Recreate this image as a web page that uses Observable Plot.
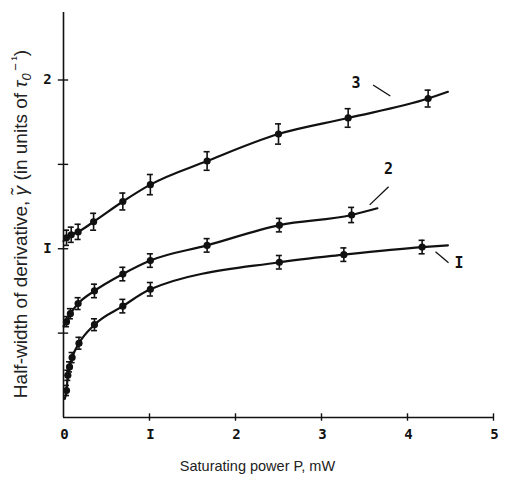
<!DOCTYPE html>
<html>
<head>
<meta charset="utf-8">
<script src="https://cdn.jsdelivr.net/npm/d3@7"></script>
<script src="https://cdn.jsdelivr.net/npm/@observablehq/plot@0.6"></script>
<style>
  html, body { margin: 0; padding: 0; background: #fff; }
  #chart svg { display: block; }
</style>
</head>
<body>
<div id="chart"></div>
<script>
// ---- data ----
// Curve 3
const p3 = [0.035, 0.09, 0.17, 0.35, 0.69, 1.01, 1.67, 2.50, 3.31, 4.24];
const g3 = [1.065, 1.083, 1.10, 1.16, 1.28, 1.38, 1.52, 1.68, 1.775, 1.89];
const e3 = [0.045, 0.045, 0.045, 0.05, 0.05, 0.06, 0.055, 0.06, 0.055, 0.05];
const line3Start = [0.0, 1.045];
const line3End = [4.47, 1.93];
// Curve 2
const p2 = [0.035, 0.08, 0.17, 0.36, 0.69, 1.01, 1.67, 2.51, 3.35];
const g2 = [0.568, 0.615, 0.675, 0.75, 0.85, 0.93, 1.02, 1.14, 1.20];
const e2 = [0.03, 0.03, 0.035, 0.04, 0.04, 0.04, 0.04, 0.04, 0.045];
const line2Start = [0.0, 0.54];
const line2End = [3.65, 1.24];
// Curve 1
const p1 = [0.035, 0.05, 0.07, 0.10, 0.18, 0.36, 0.69, 1.01, 2.51, 3.26, 4.17];
const g1 = [0.16, 0.25, 0.30, 0.355, 0.44, 0.55, 0.66, 0.76, 0.92, 0.965, 1.01];
const e1 = [0.03, 0.03, 0.03, 0.03, 0.035, 0.035, 0.04, 0.04, 0.04, 0.04, 0.04];
const line1Start = [0.015, 0.11];
const line1End = [4.47, 1.02];

// curve labels and leader lines (data units)
const curveLabels = ["3", "2", "I"];
const labelX = [3.40, 3.78, 4.60];
const labelY = [1.98, 1.47, 0.917];
const leaderX1 = [3.60, 3.78, 4.326];
const leaderY1 = [1.97, 1.367, 0.982];
const leaderX2 = [3.80, 3.56, 4.477];
const leaderY2 = [1.905, 1.26, 0.917];

// axes
const xTicks = [0, 1, 2, 3, 4, 5];
const xTickLabels = ["0", "I", "2", "3", "4", "5"];
const yTicks = [0.5, 1, 1.5, 2];
const yLabelTicks = [1, 2];
const yTickLabels = ["I", "2"];
const xTitle = "Saturating power P, mW";
// y title pieces: [text, style] (style: "n" normal, "i" italic, "sub", "sup")
const yTitleParts = [
  ["Half-width of derivative, ", "n"],
  ["\u03B3\u0303", "i"],
  [" (in units of ", "n"],
  ["\u03C4", "i"],
  ["0", "sub"],
  ["\u2009\u2212\u2009\u00B9", "sup"],
  [")", "n"]
];
const yTitle = yTitleParts.map(p => p[0]).join("");

// ---- build tables ----
function pts(xs, ys, es) { return xs.map((x, i) => ({x, y: ys[i], e: es[i]})); }
const pts3 = pts(p3, g3, e3), pts2 = pts(p2, g2, e2), pts1 = pts(p1, g1, e1);
const allPts = [...pts3, ...pts2, ...pts1];
function lineOf(start, xs, ys, end) {
  return [{x: start[0], y: start[1]}, ...xs.map((x, i) => ({x, y: ys[i]})), {x: end[0], y: end[1]}];
}
const lines = [
  lineOf(line3Start, p3, g3, line3End),
  lineOf(line2Start, p2, g2, line2End),
  lineOf(line1Start, p1, g1, line1End)
];
const labels = curveLabels.map((t, i) => ({t, x: labelX[i], y: labelY[i],
  x1: leaderX1[i], y1: leaderY1[i], x2: leaderX2[i], y2: leaderY2[i]}));

const capHalf = 0.035; // cap half-width in x units
const tickFont = "DejaVu Sans Mono";
const ink = "#111";

const chart = Plot.plot({
  width: 505,
  height: 477,
  marginLeft: 63,
  marginRight: 12,
  marginTop: 12,
  marginBottom: 60,
  x: {domain: [0, 5], axis: null},
  y: {domain: [0, 2.4], axis: null},
  style: {background: "#fff"},
  marks: [
    // axis lines
    Plot.ruleY([0], {x1: 0, x2: 5, stroke: ink, strokeWidth: 1.6}),
    Plot.ruleX([0], {y1: 0, y2: 2.4, stroke: ink, strokeWidth: 1.6}),
    // crossing ticks
    Plot.ruleX(xTicks.slice(1), {x: d => d, y1: -0.022, y2: 0.022, stroke: ink, strokeWidth: 1.4}),
    Plot.ruleY(yTicks, {y: d => d, x1: -0.06, x2: 0.06, stroke: ink, strokeWidth: 1.4}),
    // tick labels
    Plot.text(xTicks, {x: d => d, y: 0, dy: 17, dx: 1, text: (d, i) => xTickLabels[i],
      fontFamily: tickFont, fontWeight: "bold", fontSize: 14, fill: ink}),
    Plot.text(yLabelTicks, {x: 0, y: d => d, dx: -16, text: (d, i) => yTickLabels[i],
      fontFamily: tickFont, fontWeight: "bold", fontSize: 14, fill: ink}),
    // axis titles
    Plot.text([xTitle], {frameAnchor: "bottom", textAnchor: "middle", dx: -21, dy: 53, text: d => d,
      fontFamily: "Liberation Sans", fontSize: 14.5, fill: "#222"}),
    Plot.text([yTitle], {frameAnchor: "left", textAnchor: "middle", rotate: -90, dx: -43, dy: 9, text: d => d,
      fontFamily: "Liberation Sans", fontSize: 19, fill: "#222", className: "ytitle"}),
    // curves
    ...lines.map(L => Plot.line(L, {x: "x", y: "y", curve: "monotone-x", stroke: ink, strokeWidth: 2.2})),
    // error bars
    Plot.ruleX(allPts, {x: "x", y1: d => d.y - d.e, y2: d => d.y + d.e, stroke: ink, strokeWidth: 1.6}),
    Plot.ruleY(allPts, {y: d => d.y - d.e, x1: d => d.x - capHalf, x2: d => d.x + capHalf, stroke: ink, strokeWidth: 1.6}),
    Plot.ruleY(allPts, {y: d => d.y + d.e, x1: d => d.x - capHalf, x2: d => d.x + capHalf, stroke: ink, strokeWidth: 1.6}),
    // points
    Plot.dot(allPts, {x: "x", y: "y", r: 3.6, fill: ink, stroke: "none"}),
    // curve labels with leaders
    Plot.link(labels, {x1: "x1", y1: "y1", x2: "x2", y2: "y2", stroke: ink, strokeWidth: 1.3}),
    Plot.text(labels, {x: "x", y: "y", text: "t", fontFamily: tickFont, fontWeight: "bold", fontSize: 15, fill: ink})
  ]
});

// rich formatting of the y title (italics, subscript, superscript)
const yt = d3.select(chart).select(".ytitle text");
if (!yt.empty()) {
  yt.text(null);
  let prev = "n";
  for (const [s, st] of yTitleParts) {
    const ts = yt.append("tspan").text(s);
    if (st === "i") ts.attr("font-style", "italic");
    if (st === "sub") ts.attr("font-style", "italic").attr("font-size", "13").attr("dy", prev === "sup" ? 9 : 4);
    if (st === "sup") ts.attr("font-size", "13").attr("dy", prev === "sub" ? -11 : -7);
    if (st === "n" && prev === "sup") ts.attr("dy", 7);
    if (st === "n" && prev === "sub") ts.attr("dy", -4);
    prev = st;
  }
}
document.getElementById("chart").appendChild(chart);
</script>
</body>
</html>
